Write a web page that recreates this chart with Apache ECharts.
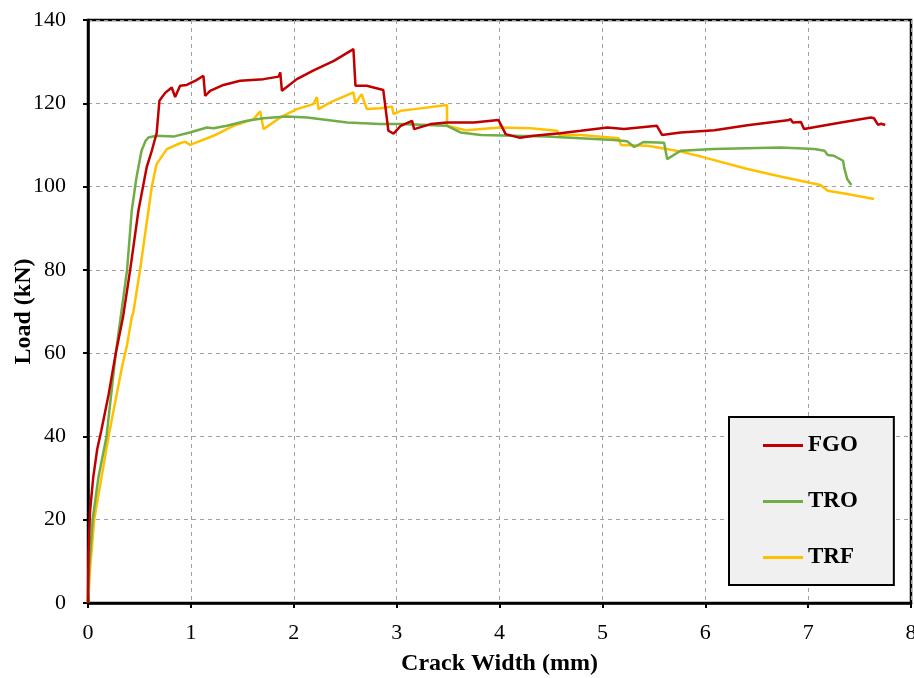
<!DOCTYPE html>
<html>
<head>
<meta charset="utf-8">
<script src="https://cdn.jsdelivr.net/npm/echarts@6/dist/echarts.min.js"></script>
<style>
  html, body { margin: 0; padding: 0; background: #fff; }
  #chart { width: 914px; height: 678px; }
</style>
</head>
<body>
<div id="chart"></div>
<script>
// Load vs crack width curves, [crack width (mm), load (kN)]
const fgoData = [[0,0],[0.005,12],[0.02,22],[0.05,30],[0.09,37],[0.13,41.5],[0.2,50],[0.27,60],[0.34,68.6],[0.41,80],[0.49,94.2],[0.57,104.6],[0.62,108.6],[0.667,112.8],[0.694,120.6],[0.75,122.5],[0.814,123.8],[0.847,121.5],[0.895,124.2],[0.96,124.4],[1.05,125.5],[1.122,126.6],[1.139,121.8],[1.187,123],[1.317,124.4],[1.479,125.4],[1.706,125.8],[1.853,126.4],[1.869,127.4],[1.885,123],[2.03,125.8],[2.193,127.9],[2.39,130.2],[2.58,133],[2.6,124.2],[2.71,124.2],[2.87,123.2],[2.92,113.4],[2.97,112.7],[3.04,114.6],[3.15,115.8],[3.17,113.8],[3.33,115],[3.49,115.4],[3.75,115.4],[3.99,116],[4.06,112.6],[4.2,111.7],[4.33,112.2],[4.59,112.8],[4.79,113.4],[5.05,114.2],[5.21,113.8],[5.53,114.6],[5.58,112.4],[5.76,113],[6.09,113.5],[6.41,114.7],[6.8,115.9],[6.83,116.2],[6.85,115.4],[6.93,115.5],[6.96,113.8],[7.32,115.4],[7.61,116.6],[7.64,116.4],[7.68,114.8],[7.71,115.1],[7.75,114.8]];

const troData = [[0,0],[0.01,8],[0.045,20],[0.1,30],[0.18,40],[0.27,60],[0.38,80],[0.425,94.2],[0.47,102],[0.52,108.6],[0.56,111],[0.587,111.8],[0.667,112.2],[0.83,112],[0.99,113],[1.155,114.2],[1.22,114],[1.35,114.6],[1.545,115.8],[1.706,116.4],[1.93,116.8],[2.13,116.6],[2.52,115.4],[2.84,115],[3.04,115],[3.49,114.6],[3.62,113],[3.82,112.4],[4.46,112],[5.11,111.2],[5.24,110.9],[5.31,109.5],[5.4,110.7],[5.6,110.5],[5.63,106.6],[5.76,108.6],[6.08,109],[6.73,109.4],[7.06,109],[7.16,108.6],[7.19,107.6],[7.25,107.4],[7.34,106.2],[7.35,104.6],[7.38,101.8],[7.42,100.4]];

const trfData = [[0,0],[0.02,8],[0.06,20],[0.13,30],[0.2,40],[0.27,49],[0.33,56.6],[0.38,62],[0.425,68.6],[0.44,69.7],[0.506,80],[0.587,94.2],[0.62,100],[0.667,105.4],[0.766,109],[0.895,110.4],[0.944,110.8],[0.993,110],[1.22,112.2],[1.414,114.6],[1.61,116.2],[1.674,118.1],[1.706,113.8],[1.869,116.6],[2.03,118.6],[2.19,119.8],[2.225,121.5],[2.24,118.6],[2.355,120.2],[2.58,122.6],[2.6,120],[2.66,122.2],[2.71,118.6],[2.84,118.8],[2.955,119.2],[2.97,117.4],[3.04,118.2],[3.17,118.6],[3.49,119.6],[3.49,114.6],[3.59,114],[3.68,113.5],[3.82,113.8],[4.01,114.2],[4.3,114],[4.56,113.4],[4.58,112.4],[4.79,112.4],[5.16,111.6],[5.18,110],[5.44,109.8],[5.76,108.4],[5.96,107.2],[6.41,104.2],[6.73,102.4],[7.12,100.4],[7.19,99],[7.38,98.2],[7.64,97]];

const seriesNames = ['FGO', 'TRO', 'TRF'];
const seriesColors = ['#C00000', '#70AD47', '#FFC000'];
const seriesData = [fgoData, troData, trfData];

const serif = '"Liberation Serif", "Times New Roman", serif';

const chart = echarts.init(document.getElementById('chart'), null, { renderer: 'canvas' });

const gridLine = { show: true, lineStyle: { color: '#a0a0a0', width: 1, type: [4, 4] } };
const axisLine = { show: true, onZero: false, lineStyle: { color: '#000', width: 2.5 } };
const axisTick = { show: true, inside: false, length: 5, lineStyle: { color: '#000', width: 2 } };

chart.setOption({
  animation: false,
  backgroundColor: '#fff',
  grid: {
    left: 88, right: 3, top: 20, bottom: 75,
    containLabel: false,
    outerBoundsMode: 'none',
    show: true, borderColor: '#000', borderWidth: 2.5, backgroundColor: 'transparent'
  },
  xAxis: {
    type: 'value', min: 0, max: 8, interval: 1,
    name: 'Crack Width (mm)', nameLocation: 'middle', nameGap: 49,
    nameMoveOverlap: false,
    nameTextStyle: { fontFamily: serif, fontWeight: 'bold', fontSize: 24, color: '#000' },
    axisLine, axisTick,
    axisLabel: { fontFamily: serif, fontSize: 22, color: '#000', margin: 19 },
    splitLine: gridLine
  },
  yAxis: {
    type: 'value', min: 0, max: 140, interval: 20,
    name: 'Load (kN)', nameLocation: 'middle', nameGap: 52,
    nameMoveOverlap: false,
    nameTextStyle: { fontFamily: serif, fontWeight: 'bold', fontSize: 24, color: '#000' },
    axisLine, axisTick,
    axisLabel: { fontFamily: serif, fontSize: 22, color: '#000', margin: 22 },
    splitLine: gridLine
  },
  legend: {
    orient: 'vertical',
    left: 729, top: 417,
    padding: [17, 36, 16, 34],
    itemGap: 33,
    itemWidth: 40, itemHeight: 3,
    icon: 'rect',
    backgroundColor: '#f0f0f0',
    borderColor: '#000', borderWidth: 2,
    textStyle: { fontFamily: serif, fontWeight: 'bold', fontSize: 23, color: '#000' },
    data: seriesNames
  },
  series: seriesNames.map((name, i) => ({
    name,
    type: 'line',
    data: seriesData[i],
    showSymbol: false,
    symbol: 'none',
    color: seriesColors[i],
    lineStyle: { color: seriesColors[i], width: 2.5 },
    z: 3 - i
  }))
});
</script>
</body>
</html>
